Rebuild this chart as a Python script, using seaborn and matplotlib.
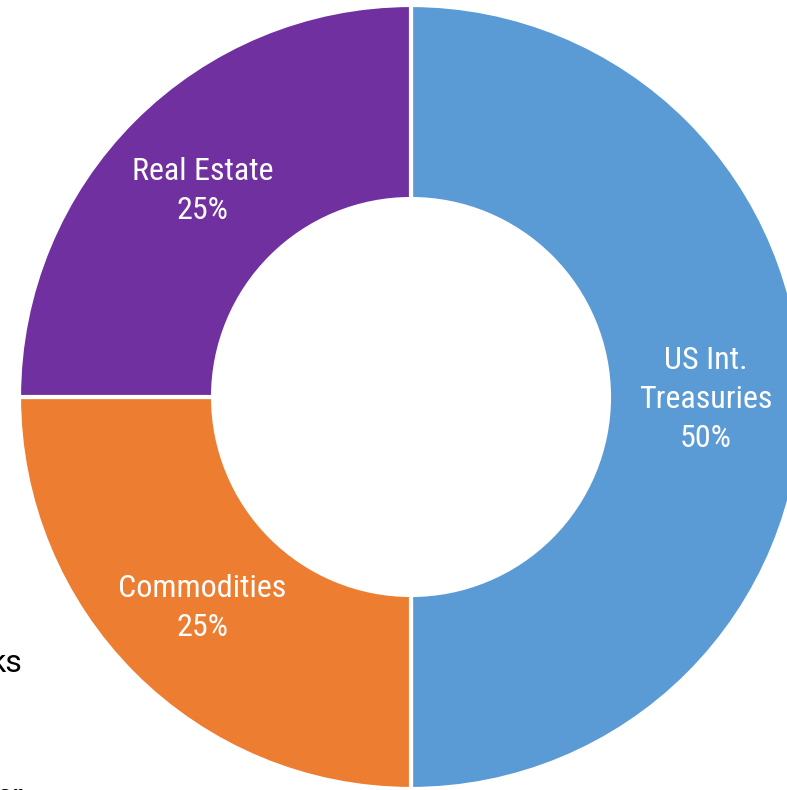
import matplotlib
matplotlib.use("Agg")
import matplotlib.pyplot as plt
import numpy as np
import seaborn as sns

sns.set_theme(style="white")
plt.rcParams["font.family"] = ["Roboto Condensed", "DejaVu Sans Condensed", "Roboto", "DejaVu Sans"]

# Portfolio allocation
categories = ["US Int.\nTreasuries", "Commodities", "Real Estate"]
weights = [50, 25, 25]
colors = ["#5B9BD5", "#ED7D31", "#7030A0"]

# Legend fragments at the left edge
side_labels = ["ks", "er"]

W, H = 787, 790
fig = plt.figure(figsize=(W / 100, H / 100), dpi=100)
fig.patch.set_facecolor("white")

cx, cy, r = 411, 397, 392
ax = fig.add_axes([(cx - r) / W, (H - cy - r) / H, 2 * r / W, 2 * r / H])

ring = 0.495
wedges, _ = ax.pie(
    weights,
    colors=colors,
    startangle=90,
    counterclock=False,
    radius=1,
    wedgeprops=dict(width=ring, edgecolor="white", linewidth=3),
)
ax.set_xlim(-1, 1)
ax.set_ylim(-1, 1)
ax.set_aspect("equal")
ax.axis("off")

label_r = 1 - ring / 2
for w, name, val in zip(wedges, categories, weights):
    mid = np.deg2rad((w.theta1 + w.theta2) / 2)
    ax.text(label_r * np.cos(mid), label_r * np.sin(mid) - 0.006, f"{name}\n{val}%",
            ha="center", va="center", color="white", fontsize=23,
            fontstretch="condensed", linespacing=1.42)

fig.text(23 / W, 1 - 672 / H, side_labels[0], ha="right", va="baseline",
         fontsize=23, color="black", family=["Roboto", "DejaVu Sans"])
fig.text(23 / W, 1 - 806 / H, side_labels[1], ha="right", va="baseline",
         fontsize=23, color="black", family=["Roboto", "DejaVu Sans"])

fig.savefig("out.png", dpi=100, facecolor="white")
